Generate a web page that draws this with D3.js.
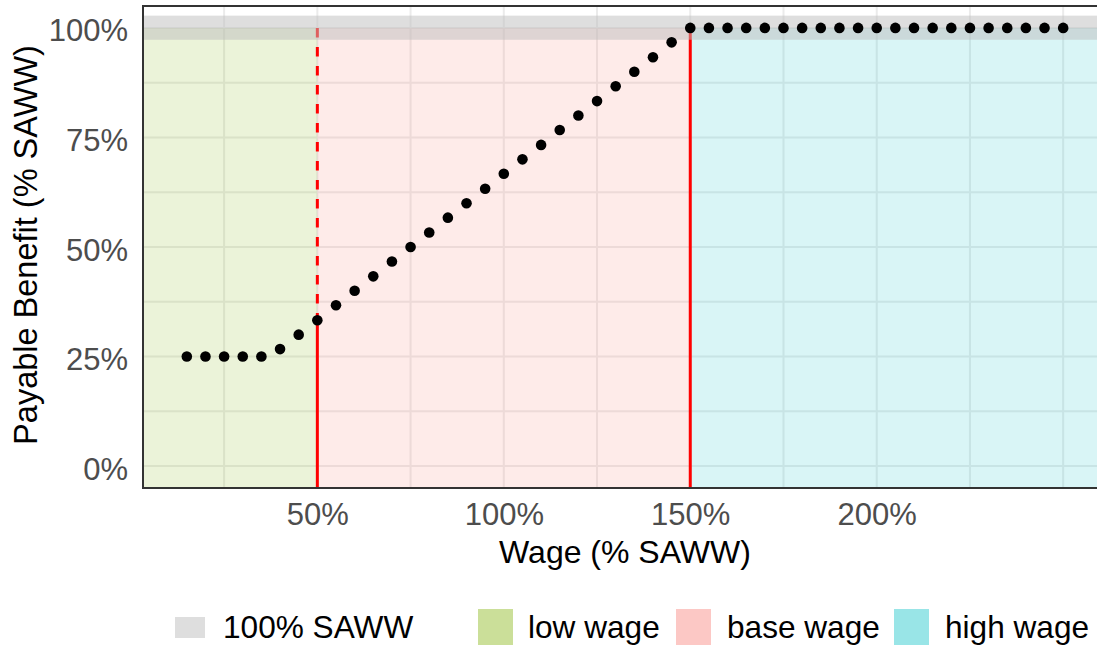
<!DOCTYPE html>
<html>
<head>
<meta charset="utf-8">
<script src="https://cdn.jsdelivr.net/npm/d3@7"></script>
<style>
  html, body { margin: 0; padding: 0; background: #fff; }
  svg { display: block; font-family: "Liberation Sans", Arial, Helvetica, sans-serif; }
</style>
</head>
<body>
<svg id="chart" width="1097" height="646"></svg>
<script>
// ---------- data ----------
const wages = [15,20,25,30,35,40,45,50,55,60,65,70,75,80,85,90,95,100,105,110,115,120,125,130,135,140,145,
               150,155,160,165,170,175,180,185,190,195,200,205,210,215,220,225,230,235,240,245,250];
const benefits = [25,25,25,25,25,26.7,30,33.3,36.7,40,43.3,46.7,50,53.3,56.7,60,63.3,66.7,70,73.3,76.7,80,83.3,86.7,90,93.3,96.7,
                  100,100,100,100,100,100,100,100,100,100,100,100,100,100,100,100,100,100,100,100,100];
const regionNames = ["low wage", "base wage", "high wage"];
const regionStart = [-Infinity, 50, 150];
const regionEnd = [50, 150, Infinity];
const regionColors = ["#7CAE00", "#F8766D", "#00BFC4"];
const regionTop = 100;
const bandLow = 97.3, bandHigh = 102.8;      // "100% SAWW" band
const thresholdWages = [50, 150];
const thresholdBenefits = [33.3, 100];
const xTicks = [50, 100, 150, 200];
const yTicks = [0, 25, 50, 75, 100];
const gridX = [25, 50, 75, 100, 125, 150, 175, 200, 225, 250];
const gridY = [0, 12.5, 25, 37.5, 50, 62.5, 75, 87.5, 100];
const legendLabels = ["100% SAWW", "low wage", "base wage", "high wage"];

// ---------- layout ----------
const svg = d3.select("#chart");
const P = { left: 143, right: 1107, top: 6, bottom: 488 };
const x = d3.scaleLinear().domain([3.25, 261.75]).range([P.left, P.right]);
const y = d3.scaleLinear().domain([-5, 105]).range([P.bottom, P.top]);
const clampX = v => Math.max(x.domain()[0], Math.min(x.domain()[1], v));

svg.append("defs").append("clipPath").attr("id", "panel")
  .append("rect").attr("x", P.left).attr("y", P.top)
  .attr("width", P.right - P.left).attr("height", P.bottom - P.top);

const g = svg.append("g").attr("clip-path", "url(#panel)");

// grid
g.selectAll("line.gx").data(gridX).join("line")
  .attr("x1", d => x(d)).attr("x2", d => x(d))
  .attr("y1", P.top).attr("y2", P.bottom)
  .attr("stroke", "#EBEBEB").attr("stroke-width", 2);
g.selectAll("line.gy").data(gridY).join("line")
  .attr("y1", d => y(d)).attr("y2", d => y(d))
  .attr("x1", P.left).attr("x2", P.right)
  .attr("stroke", "#EBEBEB").attr("stroke-width", 2);

// region rects
g.selectAll("rect.region").data(regionNames).join("rect")
  .attr("x", (d, i) => x(clampX(regionStart[i])))
  .attr("width", (d, i) => x(clampX(regionEnd[i])) - x(clampX(regionStart[i])))
  .attr("y", y(regionTop))
  .attr("height", y(y.domain()[0]) - y(regionTop))
  .attr("fill", (d, i) => regionColors[i]).attr("fill-opacity", 0.15);

// red threshold lines
g.selectAll("line.solid").data(thresholdWages).join("line")
  .attr("x1", d => x(d)).attr("x2", d => x(d))
  .attr("y1", y(y.domain()[0])).attr("y2", (d, i) => y(thresholdBenefits[i]))
  .attr("stroke", "#FF0000").attr("stroke-width", 3);
g.selectAll("line.dash").data(thresholdWages).join("line")
  .attr("x1", d => x(d)).attr("x2", d => x(d))
  .attr("y1", y(100)).attr("y2", (d, i) => y(thresholdBenefits[i]))
  .attr("stroke", "#FF0000").attr("stroke-width", 3)
  .attr("stroke-dasharray", "9.5,9.5");

// gray band
g.append("rect")
  .attr("x", P.left).attr("width", P.right - P.left)
  .attr("y", y(bandHigh)).attr("height", y(bandLow) - y(bandHigh))
  .attr("fill", "#BEBEBE").attr("fill-opacity", 0.5);

// points
g.selectAll("circle").data(wages).join("circle")
  .attr("cx", d => x(d)).attr("cy", (d, i) => y(benefits[i]))
  .attr("r", 5.3).attr("fill", "#000");

// panel border
svg.append("rect")
  .attr("x", P.left).attr("y", P.top)
  .attr("width", P.right - P.left).attr("height", P.bottom - P.top)
  .attr("fill", "none").attr("stroke", "#333").attr("stroke-width", 2);

// axes
const fmt = d => d + "%";
const xAxis = svg.append("g").attr("transform", `translate(0,${P.bottom})`)
  .call(d3.axisBottom(x).tickValues(xTicks).tickFormat(fmt).tickSize(0).tickPadding(15));
const yAxis = svg.append("g").attr("transform", `translate(${P.left},0)`)
  .call(d3.axisLeft(y).tickValues(yTicks).tickFormat(fmt).tickSize(0).tickPadding(15));
[xAxis, yAxis].forEach(a => {
  a.select(".domain").remove();
  a.selectAll("text").attr("fill", "#4D4D4D").style("font-size", "31px")
    .style("font-family", '"Liberation Sans", Arial, sans-serif');
});
yAxis.selectAll("text").attr("dy", "0.42em");

// titles
svg.append("text").attr("x", (P.left + P.right) / 2).attr("y", 563)
  .attr("text-anchor", "middle").style("font-size", "32px").attr("fill", "#000")
  .text("Wage (% SAWW)");
svg.append("text").attr("transform", `translate(37,${(P.top + P.bottom) / 2 - 2}) rotate(-90)`)
  .attr("text-anchor", "middle").style("font-size", "32.5px").attr("fill", "#000")
  .text("Payable Benefit (% SAWW)");

// legend
const legendKeyX = [175, 478, 676, 894];
const legendTextX = [223, 528, 727, 945];
const legendFill = ["#BEBEBE", ...regionColors];
const legendOpacity = [0.5, 0.4, 0.4, 0.4];
const leg = svg.append("g");
legendLabels.forEach((lab, i) => {
  const small = i === 0;
  leg.append("rect")
    .attr("x", legendKeyX[i]).attr("y", small ? 617 : 609)
    .attr("width", small ? 30 : 35).attr("height", small ? 21 : 36)
    .attr("fill", legendFill[i]).attr("fill-opacity", legendOpacity[i]);
  leg.append("text").attr("x", legendTextX[i]).attr("y", 638)
    .style("font-size", "31.6px").attr("fill", "#000").text(lab);
});
</script>
</body>
</html>
